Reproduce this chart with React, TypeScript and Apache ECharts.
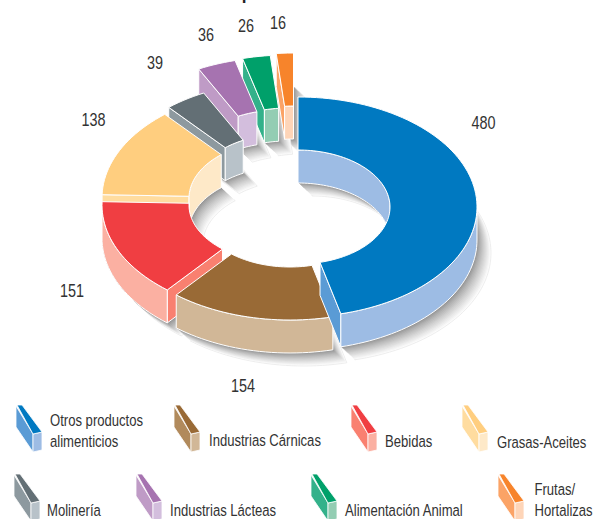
import React, { useEffect, useRef } from "react";
import * as echarts from "echarts";

const categories = ["Otros productos\nalimenticios", "Industrias Cárnicas", "Bebidas", "Grasas-Aceites", "Molinería", "Industrias Lácteas", "Alimentación Animal", "Frutas/\nHortalizas"];
const values = [480, 154, 151, 138, 39, 36, 26, 16];
const titleText = "Cuadro 1. Establecimientos por subsector en la Industria Alimentaria";

const topColors = ["#0079c1", "#996a36", "#f03e42", "#ffce7f", "#636f75", "#a673b0", "#00a06a", "#f7842b"];
const wallColors = ["#9dbce4", "#d1b797", "#fbb0a2", "#fee9c8", "#b8c2c9", "#d3bedd", "#93cdb3", "#fed5b8"];
const cutColors = ["#5a9bd5", "#b18a5c", "#f98070", "#ffdc9f", "#8d999f", "#bf9bc6", "#33b18a", "#fba366"];
const centers = [[298, 207], [290, 210], [281, 205], [281, 198], [285, 191], [280, 167], [287.5, 165], [293.5, 163]];
const labelPos = [[483.5, 122], [243, 385], [72, 290], [93.5, 119], [155, 62], [206, 34], [246, 25], [278, 22]];
const legendIcon = [[16, 0], [174, 0], [351, 0], [462, 0], [14, 69], [136, 69], [311, 69], [498, 69]];
const legendText = [[50, 420], [209, 440], [385, 441], [497, 442], [47, 510], [170, 510], [345, 510], [534.5, 489]];

const RX = 179, RY = 110, IRX = 92, IRY = 57, DEPTH = 33, SHX = 14, SHY = 13, BANDS = 14;
const FONT = '"Liberation Sans", Arial, sans-serif';
const LABEL_SCALE = 0.8, LEGEND_SCALE = 0.77;

const total = values.reduce((a, b) => a + b, 0);
const startAngles = values.map((_, i) => (values.slice(0, i).reduce((a, b) => a + b, 0) / total) * 360);
const rad = (d: number) => (d * Math.PI) / 180;

function arc(c: number[], rx: number, ry: number, a0: number, a1: number, dy = 0, dx = 0) {
  const n = Math.max(2, Math.ceil(Math.abs(a1 - a0) / 2));
  const pts: number[][] = [];
  for (let k = 0; k <= n; k++) {
    const a = rad(a0 + ((a1 - a0) * k) / n);
    pts.push([c[0] + dx + rx * Math.sin(a), c[1] + dy - ry * Math.cos(a)]);
  }
  return pts;
}
const ring = (c: number[], a0: number, a1: number, dy = 0, dx = 0) => [
  ...arc(c, RX, RY, a0, a1, dy, dx),
  ...arc(c, IRX, IRY, a1, a0, dy, dx),
];
const clipOverlap = (a0: number, a1: number, lo: number, hi: number) => {
  const s = Math.max(a0, lo), e = Math.min(a1, hi);
  return e > s ? [s, e] : null;
};

function poly(points: number[][], fill: string, stroke = "#ffffff", lineWidth = 1) {
  return { type: "polygon", shape: { points }, style: { fill, stroke, lineWidth: stroke === "none" ? 0 : lineWidth } };
}

function renderShadow(params: any) {
  const i = values.length - 1 - params.dataIndex;
  const a0 = startAngles[i], a1 = a0 + (values[i] / total) * 360, c = centers[i];
  const children: any[] = [];
  for (let b = BANDS; b >= 0; b--) {
    const t = b / BANDS;
    const g = Math.round(135 + 117 * Math.pow(t, 0.75));
    children.push(poly(ring(c, a0, a1, DEPTH + SHY * t, SHX * t), `rgb(${g},${g},${g})`, b === BANDS ? "#e6e6e6" : "none", 0.7));
  }
  return { type: "group", children };
}

function renderSlice(params: any) {
  const i = values.length - 1 - params.dataIndex;
  const a0 = startAngles[i], a1 = a0 + (values[i] / total) * 360, c = centers[i];
  const children: any[] = [];
  const wall = (rx: number, ry: number, s: number, e: number) =>
    poly([...arc(c, rx, ry, s, e), ...arc(c, rx, ry, e, s, DEPTH)], wallColors[i]);
  const radial = (a: number) => {
    const o = arc(c, RX, RY, a, a, 0)[0], n = arc(c, IRX, IRY, a, a, 0)[0];
    return poly([o, n, [n[0], n[1] + DEPTH], [o[0], o[1] + DEPTH]], cutColors[i]);
  };
  // radial cut faces that turn towards the viewer
  if (Math.sin(rad(a0)) < -1e-6) children.push(radial(a0));
  if (Math.sin(rad(a1)) > 1e-6) children.push(radial(a1));
  for (const [lo, hi] of [[0, 90], [270, 360]]) {
    const r = clipOverlap(a0, a1, lo, hi);
    if (r) children.push(wall(IRX, IRY, r[0], r[1]));
  }
  const outer = clipOverlap(a0, a1, 90, 270);
  if (outer) children.push(wall(RX, RY, outer[0], outer[1]));
  children.push(poly(ring(c, a0, a1), topColors[i]));
  return { type: "group", children };
}

function renderLabel(params: any) {
  const i = values.length - 1 - params.dataIndex;
  return {
    type: "text",
    x: labelPos[i][0],
    y: labelPos[i][1],
    scaleX: LABEL_SCALE,
    style: { text: String(values[i]), font: `18px ${FONT}`, fill: "#333333", align: "center", verticalAlign: "middle" },
  };
}

function legendGraphics() {
  const out: any[] = [];
  categories.forEach((name, i) => {
    const [x, y] = legendIcon[i];
    const p = (px: number, py: number) => [x + px, y + py];
    out.push({ type: "polygon", shape: { points: [p(0, 406), p(17, 434), p(17, 452), p(0, 427)] }, style: { fill: cutColors[i], stroke: "#fff", lineWidth: 0.8 } });
    out.push({ type: "polygon", shape: { points: [p(17, 434), p(26, 432), p(26, 450), p(17, 452)] }, style: { fill: wallColors[i], stroke: "#fff", lineWidth: 0.8 } });
    out.push({ type: "polygon", shape: { points: [p(1, 405), p(6, 405), p(26, 432), p(17, 434)] }, style: { fill: topColors[i], stroke: "#fff", lineWidth: 0.8 } });
    const multi = name.includes("\n");
    out.push({
      type: "text",
      x: legendText[i][0],
      y: multi ? legendText[i][1] - 11 : legendText[i][1],
      scaleX: LEGEND_SCALE,
      style: { text: name, font: `17px ${FONT}`, lineHeight: 21.5, fill: "#333333", align: "left", verticalAlign: multi ? "top" : "middle" },
    });
  });
  out.push({
    type: "text",
    x: 14,
    y: -6,
    scaleX: 1.0,
    style: { text: titleText, font: `bold 17px ${FONT}`, fill: "#222222", align: "left", verticalAlign: "middle" },
  });
  return out;
}

export default function App() {
  const ref = useRef<HTMLDivElement>(null);
  useEffect(() => {
    if (!ref.current) return;
    const chart = echarts.init(ref.current, undefined, { renderer: "svg" });
    const data = values.map((_, k) => values[values.length - 1 - k]);
    chart.setOption({
      animation: false,
      backgroundColor: "#ffffff",
      graphic: legendGraphics(),
      series: [
        { type: "custom", coordinateSystem: "none", z: 1, silent: true, data, renderItem: renderShadow },
        { type: "custom", coordinateSystem: "none", z: 2, silent: true, data, renderItem: renderSlice },
        { type: "custom", coordinateSystem: "none", z: 3, silent: true, data, renderItem: renderLabel },
      ],
    });
    return () => chart.dispose();
  }, []);
  return <div ref={ref} style={{ position: "absolute", left: 0, top: 0, width: 593, height: 519 }} />;
}
